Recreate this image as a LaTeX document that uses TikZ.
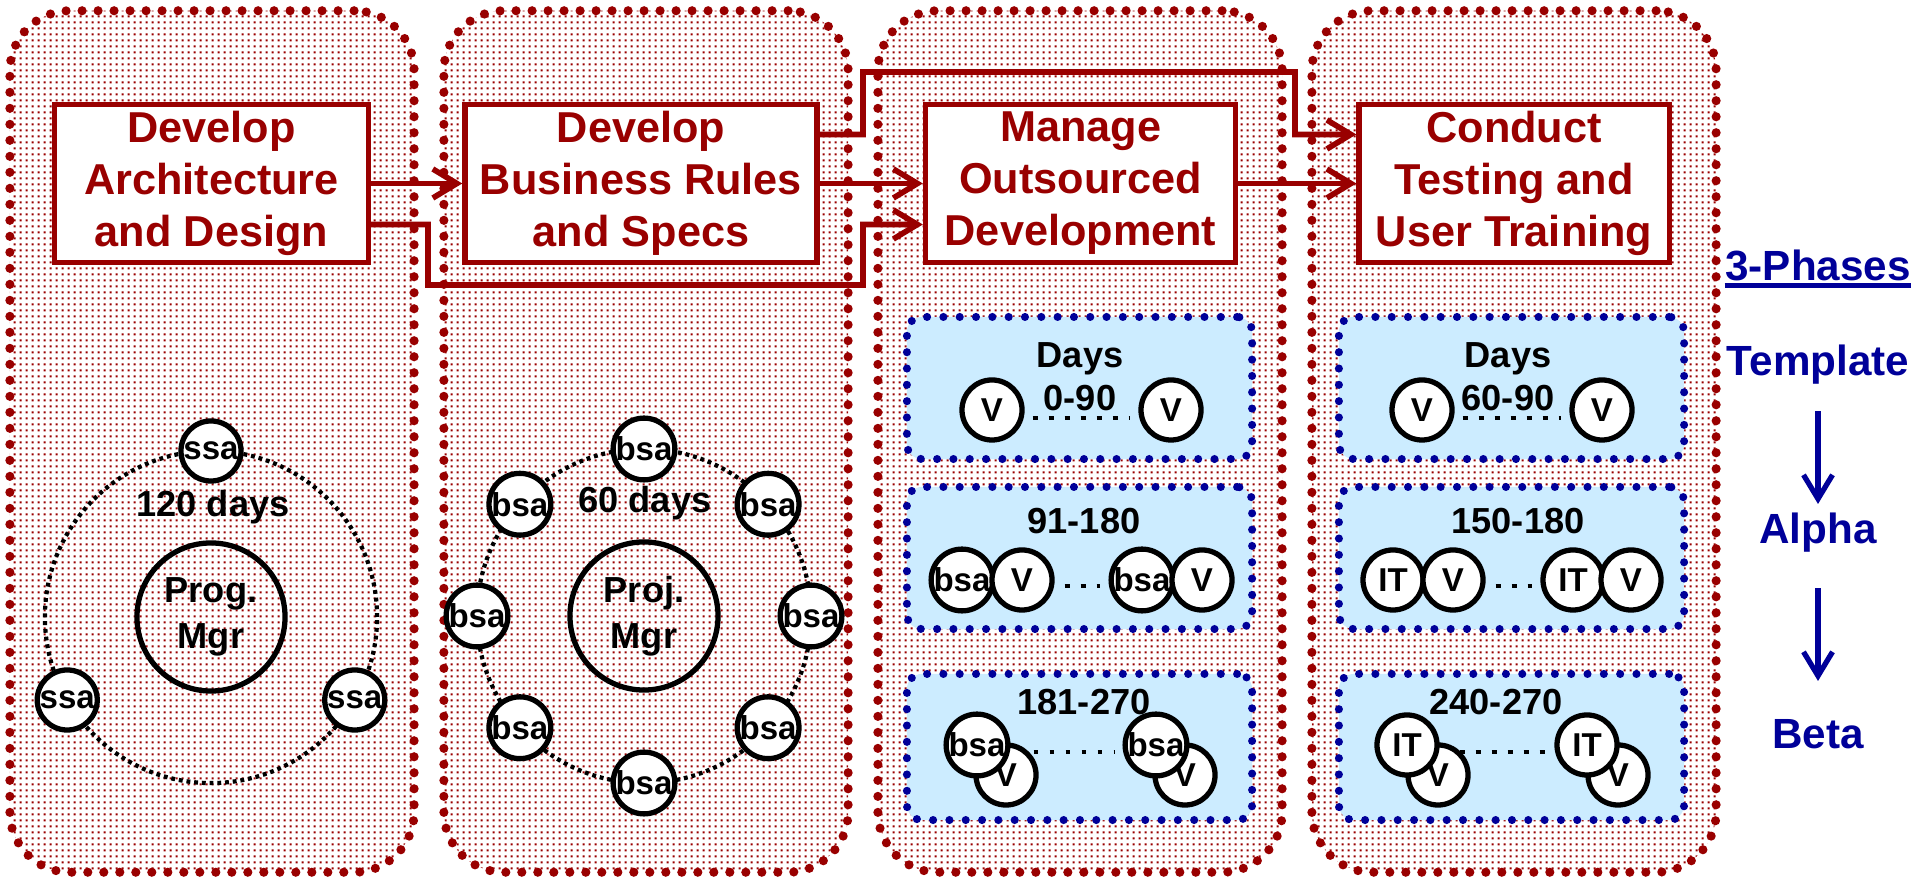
\documentclass[tikz,border=0pt]{standalone}
\usepackage{fontspec}
\setmainfont{Liberation Sans}
\usetikzlibrary{arrows.meta, patterns, positioning}

\definecolor{dred}{RGB}{153,0,0}
\definecolor{navy}{RGB}{0,0,153}
\definecolor{skyfill}{RGB}{204,236,255}

% small square dots for the phase panels
\pgfdeclarepatternformonly{paneldots}{\pgfpointorigin}{\pgfqpoint{1.75pt}{1.75pt}}{\pgfqpoint{1.75pt}{1.75pt}}{%
  \pgfpathrectangle{\pgfqpoint{0.5pt}{0.5pt}}{\pgfqpoint{0.7pt}{0.7pt}}\pgfusepath{fill}}

\begin{document}
\begin{tikzpicture}[
            x = 0.01cm, y = -0.01cm, % pixel grid, y runs down
            > = {Straight Barb[length=2.4mm, width=2.9mm]}, % open arrow head
            line join = miter,
            font = \bfseries
        ]

        \tikzstyle{panel}=[
            pattern = paneldots, pattern color = dred,
            draw = dred, line width = 2.6pt,
            dash pattern = on 0pt off 4.55pt, line cap = round,
            rounded corners = 0.6cm,
            minimum width = 4.04cm, minimum height = 8.61cm
        ]
        \tikzstyle{taskbox}=[
            draw = dred, line width = 1.5pt, fill = white,
            text = dred, font = \fontsize{12.3}{14.8}\selectfont\bfseries,
            align = center, inner sep = 0pt,
            minimum height = 1.58cm
        ]
        \tikzstyle{conn}=[draw = dred, line width = 1.6pt, ->]
        \tikzstyle{dayzone}=[
            fill = skyfill, draw = navy, line width = 2.3pt,
            dash pattern = on 0pt off 4.64pt, line cap = round,
            rounded corners = 0.15cm,
            minimum width = 3.45cm, minimum height = 1.42cm
        ]
        \tikzstyle{person}=[
            circle, draw = black, line width = 1.5pt, fill = white,
            minimum size = 0.6cm, inner sep = 0pt,
            font = \fontsize{9.4}{10}\selectfont\bfseries
        ]
        \tikzstyle{bigc}=[
            circle, draw = black, line width = 1.5pt,
            minimum size = 1.48cm, inner sep = 0pt, align = center,
            font = \fontsize{10.3}{13}\selectfont\bfseries
        ]
        \tikzstyle{ring}=[draw = black, line width = 1.2pt, dash pattern = on 1.1pt off 1.1pt]
        \tikzstyle{dotgap}=[draw = black, line width = 1.4pt, dash pattern = on 1.4pt off 3.15pt]
        \tikzstyle{daytext}=[inner sep = 0pt, align = center, font = \fontsize{10.3}{12.2}\selectfont\bfseries]
        \tikzstyle{phasetext}=[inner sep = 0pt, text = navy, font = \fontsize{12}{14}\selectfont\bfseries]
        \tikzstyle{phasearrow}=[draw = navy, line width = 1.5pt, ->]

        \useasboundingbox (0,0) rectangle (1915,877);

        % the four phase panels
        \foreach \i in {1,...,4}
            \node[panel] (p\i) at ({212+434*(\i-1)}, 441.5) {};

        % task boxes
        \node[taskbox, minimum width = 3.14cm] (b1) at (211.5,183.5) {Develop\\Architecture\\and Design};
        \node[taskbox, minimum width = 3.52cm] (b2) [right = 0.91cm of b1] {Develop\\Business Rules\\and Specs};
        \node[taskbox, minimum width = 3.10cm] (b3) [right = 1.03cm of b2] {Manage\\Outsourced\\Development};
        \node[taskbox, minimum width = 3.10cm] (b4) [right = 1.18cm of b3] {Conduct\\Testing and\\User Training};

        \path[conn] (b1) -- (b2);
        \path[conn] (b2) -- (b3);
        \path[conn] (b3) -- (b4);
        \path[conn] ([yshift=-0.41cm]b1.east) -| (428,285) -| (863,224.5) -- ([yshift=-0.41cm]b3.west);
        \path[conn] ([yshift=0.49cm]b2.east) -| (863,72) -| (1295,134.5) -- ([yshift=0.49cm]b4.west);

        % panel 1: architecture team
        \node[bigc] (pm1) at (211,617) {Prog.\\Mgr};
        \draw[ring] (pm1.center) circle[radius=1.66cm];
        \foreach \a in {-90,30,150}
            \node[person] (ssa\a) at ([shift={(\a:166)}]pm1.center) {ssa};
        \node[daytext] (d1) at (213,507) {120 days};

        % panel 2: business rules team
        \node[bigc] (pm2) at (644,616) {Proj.\\Mgr};
        \draw[ring] (pm2.center) circle[radius=1.67cm];
        \foreach \a in {-90,-42,0,42,90,138,180,222}
            \node[person] (bsa\a) at ([shift={(\a:167)}]pm2.center) {bsa};
        \node[daytext] (d2) at (645,503) {60 days};

        % panel 3: outsourced development
        \node[dayzone] (z3a) at (1079.5,388) {};
        \node[dayzone] (z3b) at (1079.5,558) {};
        \node[dayzone, minimum height = 1.46cm] (z3c) at (1079.5,747) {};

        \node[daytext] (t3a) at (1080,377) {Days\\0-90};
        \node[person] (v3a1) at (992,410) {V};
        \node[person] (v3a2) at (1171,410) {V};
        \draw[dotgap, shorten <=0.08cm, shorten >=0.08cm] ([yshift=-0.08cm]v3a1.east) -- ([yshift=-0.08cm]v3a2.west);

        \node[daytext] (t3b) at (1084,521) {91-180};
        \node[person] (s3b1) at (962,580) {bsa};
        \node[person] (v3b1) at (1022,580) {V};
        \node[person] (s3b2) at (1142,580) {bsa};
        \node[person] (v3b2) at (1202,580) {V};
        \draw[dotgap, shorten <=0.1cm, shorten >=0.08cm] ([yshift=-0.06cm]v3b1.east) -- ([yshift=-0.06cm]s3b2.west);

        \node[daytext] (t3c) at (1084,702) {181-270};
        \node[person] (v3c1) at (1006,775) {V};
        \node[person] (s3c1) at (977,745) {bsa};
        \node[person] (v3c2) at (1185,775) {V};
        \node[person] (s3c2) at (1156,745) {bsa};
        \draw[dotgap, shorten <=0.23cm, shorten >=0.07cm] ([yshift=-0.07cm]s3c1.east) -- ([yshift=-0.07cm]s3c2.west);

        % panel 4: testing and training
        \node[dayzone] (z4a) at (1511.5,388) {};
        \node[dayzone] (z4b) at (1511.5,558) {};
        \node[dayzone, minimum height = 1.46cm] (z4c) at (1511.5,747) {};

        \node[daytext] (t4a) at (1508,377) {Days\\60-90};
        \node[person] (v4a1) at (1422,410) {V};
        \node[person] (v4a2) at (1602,410) {V};
        \draw[dotgap, shorten <=0.08cm, shorten >=0.08cm] ([yshift=-0.08cm]v4a1.east) -- ([yshift=-0.08cm]v4a2.west);

        \node[daytext] (t4b) at (1518,521) {150-180};
        \node[person] (i4b1) at (1393,580) {IT};
        \node[person] (v4b1) at (1453,580) {V};
        \node[person] (i4b2) at (1573,580) {IT};
        \node[person] (v4b2) at (1631,580) {V};
        \draw[dotgap, shorten <=0.1cm, shorten >=0.08cm] ([yshift=-0.06cm]v4b1.east) -- ([yshift=-0.06cm]i4b2.west);

        \node[daytext] (t4c) at (1496,702) {240-270};
        \node[person] (v4c1) at (1438,775) {V};
        \node[person] (i4c1) at (1407,745) {IT};
        \node[person] (v4c2) at (1618,775) {V};
        \node[person] (i4c2) at (1587,745) {IT};
        \draw[dotgap, shorten <=0.2cm, shorten >=0.07cm] ([yshift=-0.07cm]i4c1.east) -- ([yshift=-0.07cm]i4c2.west);

        % phase legend
        \node[phasetext] (ph) at (1818,265) {3-Phases};
        \draw[navy, line width = 1.3pt] ([yshift=-1.6pt]ph.base west) -- ([yshift=-1.6pt]ph.base east);
        \node[phasetext] (tmpl) at (1818,365) {Template};
        \node[phasetext] (alpha) at (1818,533) {Alpha};
        \node[phasetext] (beta) at (1818,734) {Beta};
        \path[phasearrow, shorten <=0.46cm, shorten >=0.29cm] (tmpl.center) -- (alpha.center);
        \path[phasearrow, shorten <=0.55cm, shorten >=0.53cm] (alpha.center) -- (beta.center);
\end{tikzpicture}
\end{document}
